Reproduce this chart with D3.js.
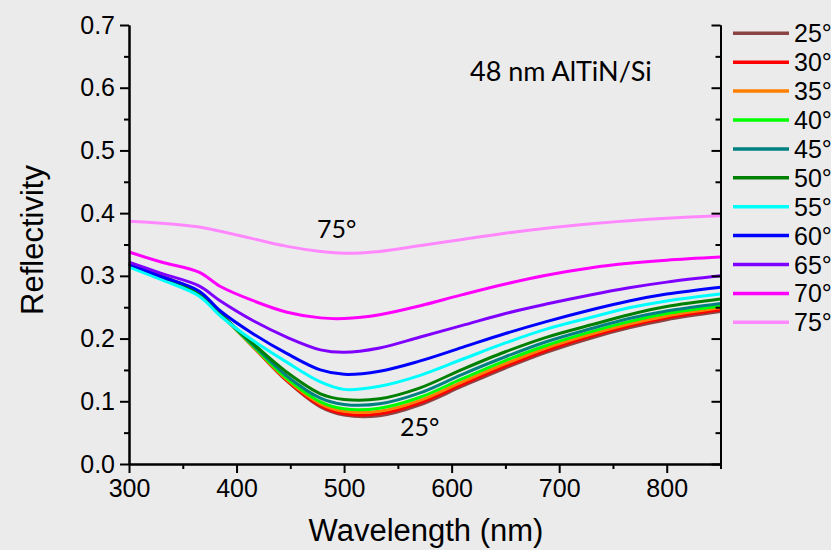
<!DOCTYPE html>
<html>
<head>
<meta charset="utf-8">
<script src="https://cdn.jsdelivr.net/npm/d3@7"></script>
<style>
	body { margin: 0; background: #ebebeb; }
	svg { display: block; background: #ebebeb; }
	.axis text { font-family: "Liberation Sans", Arial, sans-serif; font-size: 25px; fill: #000; }
	.axis path, .axis line { stroke: #000; stroke-width: 2px; }
	.title { font-family: "Liberation Sans", Arial, sans-serif; font-size: 31px; fill: #000; }
	.note { font-family: Lato, "Noto Sans", sans-serif; fill: #000; }
</style>
</head>
<body>
<svg id="chart" width="831" height="550"></svg>
<script>
// wavelength samples (nm)
var wavelengths = [300, 330, 365, 385, 416, 447, 478, 500, 533, 570, 610, 650, 688, 730, 765, 800, 850];

var angles = ["25°", "30°", "35°", "40°", "45°", "50°", "55°", "60°", "65°", "70°", "75°"];
var colors = ["#8b4343", "#ff0000", "#ff8000", "#00ff00", "#008080", "#008000", "#00ffff", "#0000ff", "#8000ff", "#ff00ff", "#ff88ff"];

var r25 = [0.321, 0.300, 0.274, 0.240, 0.186, 0.132, 0.091, 0.078, 0.077, 0.094, 0.124, 0.153, 0.178, 0.201, 0.217, 0.230, 0.243];
var r30 = [0.320, 0.299, 0.274, 0.240, 0.186, 0.133, 0.093, 0.080, 0.080, 0.097, 0.127, 0.156, 0.181, 0.204, 0.220, 0.233, 0.246];
var r35 = [0.320, 0.299, 0.273, 0.239, 0.186, 0.134, 0.096, 0.084, 0.084, 0.101, 0.131, 0.160, 0.185, 0.207, 0.223, 0.236, 0.249];
var r40 = [0.319, 0.298, 0.273, 0.239, 0.187, 0.136, 0.099, 0.088, 0.089, 0.106, 0.136, 0.165, 0.189, 0.211, 0.227, 0.240, 0.252];
var r45 = [0.318, 0.298, 0.272, 0.239, 0.189, 0.140, 0.105, 0.095, 0.096, 0.113, 0.143, 0.171, 0.195, 0.216, 0.232, 0.244, 0.256];
var r50 = [0.318, 0.297, 0.272, 0.239, 0.191, 0.146, 0.112, 0.103, 0.104, 0.121, 0.151, 0.179, 0.202, 0.222, 0.238, 0.251, 0.263];
var r55 = [0.314, 0.294, 0.268, 0.236, 0.196, 0.162, 0.131, 0.119, 0.124, 0.141, 0.167, 0.193, 0.215, 0.234, 0.249, 0.260, 0.271];
var r60 = [0.319, 0.299, 0.276, 0.244, 0.207, 0.176, 0.150, 0.143, 0.148, 0.164, 0.186, 0.208, 0.227, 0.246, 0.260, 0.271, 0.282];
var r65 = [0.322, 0.304, 0.284, 0.260, 0.228, 0.202, 0.182, 0.178, 0.185, 0.202, 0.221, 0.240, 0.255, 0.270, 0.281, 0.290, 0.300];
var r70 = [0.338, 0.322, 0.306, 0.283, 0.260, 0.242, 0.233, 0.232, 0.238, 0.252, 0.270, 0.287, 0.301, 0.313, 0.320, 0.325, 0.330];
var r75 = [0.387, 0.384, 0.378, 0.371, 0.359, 0.347, 0.339, 0.336, 0.339, 0.348, 0.358, 0.368, 0.376, 0.383, 0.388, 0.392, 0.396];

var series = [r25, r30, r35, r40, r45, r50, r55, r60, r65, r70, r75];

var xTicks = [300, 400, 500, 600, 700, 800];
var xMinor = [350, 450, 550, 650, 750, 850];
var yTicks = [0.0, 0.1, 0.2, 0.3, 0.4, 0.5, 0.6, 0.7];
var yMinor = [0.05, 0.15, 0.25, 0.35, 0.45, 0.55, 0.65];

var svg = d3.select("#chart");

var x = d3.scaleLinear().domain([300, 850]).range([129, 720.5]);
var y = d3.scaleLinear().domain([0, 0.7]).range([464, 25]);

var line = d3.line()
	.x(function(d){ return x(d[0]); })
	.y(function(d){ return y(d[1]); })
	.curve(d3.curveCatmullRom.alpha(0.5));

// curves, 25° first so 75° ends up on top
svg.append("g")
	.selectAll("path")
	.data(series)
	.enter().append("path")
	.attr("d", function(s){ return line(wavelengths.map(function(w, i){ return [w, s[i]]; })); })
	.attr("fill", "none")
	.attr("stroke", function(s, i){ return colors[i]; })
	.attr("stroke-width", 3);

// left axis
svg.append("g")
	.attr("class", "axis")
	.attr("transform", "translate(129,0)")
	.call(d3.axisLeft(y).tickValues(yTicks).tickFormat(d3.format(".1f")).tickSize(9).tickSizeOuter(0).tickPadding(5));
svg.append("g")
	.attr("class", "axis")
	.attr("transform", "translate(129,0)")
	.call(d3.axisLeft(y).tickValues(yMinor).tickFormat("").tickSize(5).tickSizeOuter(0));

// right axis, ticks pointing inward
svg.append("g")
	.attr("class", "axis")
	.attr("transform", "translate(720.5,0)")
	.call(d3.axisRight(y).tickValues(yTicks).tickFormat("").tickSize(-9).tickSizeOuter(0));
svg.append("g")
	.attr("class", "axis")
	.attr("transform", "translate(720.5,0)")
	.call(d3.axisRight(y).tickValues(yMinor).tickFormat("").tickSize(-5).tickSizeOuter(0));

// bottom axis
svg.append("g")
	.attr("class", "axis")
	.attr("transform", "translate(0,464)")
	.call(d3.axisBottom(x).tickValues(xTicks).tickFormat(d3.format("d")).tickSize(9).tickSizeOuter(0).tickPadding(6));
svg.append("g")
	.attr("class", "axis")
	.attr("transform", "translate(0,464)")
	.call(d3.axisBottom(x).tickValues(xMinor).tickFormat("").tickSize(5).tickSizeOuter(0));

// axis titles
svg.append("text")
	.attr("class", "title")
	.attr("text-anchor", "middle")
	.attr("transform", "translate(43,240) rotate(-90)")
	.text("Reflectivity");
svg.append("text")
	.attr("class", "title")
	.attr("text-anchor", "middle")
	.attr("x", 426)
	.attr("y", 541)
	.text("Wavelength (nm)");

// annotations
svg.append("text").attr("class", "note").attr("x", 470).attr("y", 81).style("font-size", "27px").text("48 nm AlTiN/Si");
svg.append("text").attr("class", "note").attr("x", 317).attr("y", 238).style("font-size", "25px").text("75°");
svg.append("text").attr("class", "note").attr("x", 400).attr("y", 436).style("font-size", "25px").text("25°");

// legend
var legend = svg.append("g")
	.selectAll("g")
	.data(angles)
	.enter().append("g")
	.attr("transform", function(d, i){ return "translate(0," + (33.3 + i * 28.9) + ")"; });
legend.append("line")
	.attr("x1", 733).attr("x2", 789)
	.attr("stroke", function(d, i){ return colors[i]; })
	.attr("stroke-width", 3.5);
legend.append("text")
	.attr("x", 794)
	.attr("y", 9)
	.style("font-family", "Liberation Sans, Arial, sans-serif")
	.style("font-size", "25px")
	.text(function(d){ return d; });
</script>
</body>
</html>
